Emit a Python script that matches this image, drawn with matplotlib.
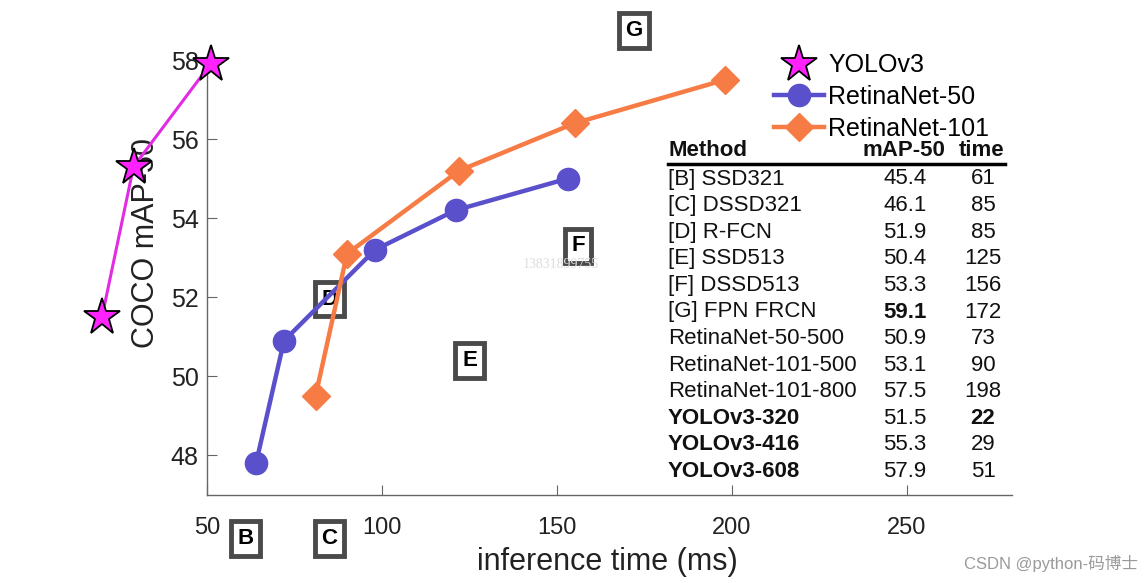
import matplotlib.pyplot as plt
from matplotlib.lines import Line2D

# curves
yolo_time = [20, 29, 51]
yolo_map = [51.5, 55.3, 57.9]
r50_time = [64, 72, 98, 121, 153]
r50_map = [47.8, 50.9, 53.2, 54.2, 55.0]
r101_time = [81, 90, 122, 155, 198]
r101_map = [49.5, 53.1, 55.2, 56.4, 57.5]

# boxed letters (B, C and G sit where the picture shows them, off the axes)
box_letters = ['B', 'C', 'D', 'E', 'F', 'G']
box_time = [61, 85, 85, 125, 156, 172]
box_map = [45.9, 45.9, 51.95, 50.4, 53.3, 58.75]

# table
methods = ['[B] SSD321', '[C] DSSD321', '[D] R-FCN', '[E] SSD513', '[F] DSSD513',
           '[G] FPN FRCN', 'RetinaNet-50-500', 'RetinaNet-101-500', 'RetinaNet-101-800',
           'YOLOv3-320', 'YOLOv3-416', 'YOLOv3-608']
map50 = ['45.4', '46.1', '51.9', '50.4', '53.3', '59.1', '50.9', '53.1', '57.5',
         '51.5', '55.3', '57.9']
times = ['61', '85', '85', '125', '156', '172', '73', '90', '198', '22', '29', '51']
bold_method = [False] * 9 + [True] * 3
bold_map = [False] * 5 + [True] + [False] * 6
bold_time = [False] * 9 + [True, False, False]

xticks = [50, 100, 150, 200, 250]
yticks = [48, 50, 52, 54, 56, 58]

c_yolo = '#ff22ff'
c_yolo_line = '#e22be2'
c_r50 = '#5b50cc'
c_r101 = '#f77b45'

plt.rcParams['font.family'] = ['Liberation Sans', 'DejaVu Sans', 'Noto Sans CJK SC']

W, H = 1148, 583
fig = plt.figure(figsize=(W / 100, H / 100), dpi=100)


def px(x, y):
    return x / W, 1 - y / H


ax = fig.add_axes([207 / W, 1 - 495 / H, (1012 - 207) / W, (495 - 60) / H])
ax.set_xlim(50, 280)
ax.set_ylim(47, 58)

ax.plot(yolo_time, yolo_map, '-', color=c_yolo_line, lw=2.2, marker='*', ms=28,
        mfc=c_yolo, mec='black', mew=1.3, clip_on=False, zorder=5)
ax.plot(r50_time, r50_map, '-', color=c_r50, lw=3.2, marker='o', ms=16,
        mfc=c_r50, mec=c_r50, clip_on=False, zorder=4)
ax.plot(r101_time, r101_map, '-', color=c_r101, lw=3.2, marker='D', ms=14,
        mfc=c_r101, mec=c_r101, clip_on=False, zorder=4)

for lab, t, m in zip(box_letters, box_time, box_map):
    ax.text(t, m, lab, fontsize=16, fontweight='bold', ha='center', va='center',
            clip_on=False, zorder=2,
            bbox=dict(boxstyle='square,pad=0.3', fc='white', ec='#4a4a4a', lw=3.5))

for s in ['top', 'right']:
    ax.spines[s].set_visible(False)
for s in ['left', 'bottom']:
    ax.spines[s].set_color('#666666')
    ax.spines[s].set_linewidth(1.0)

ax.set_xticks(xticks)
ax.set_yticks(yticks)
ax.tick_params(axis='both', direction='in', length=7, color='#666666',
               labelsize=17, labelcolor='#222222')
ax.tick_params(axis='x', pad=16)
ax.tick_params(axis='y', pad=6, labelsize=18)

ax.set_xlabel('inference time (ms)', fontsize=22, color='#222222')
ax.xaxis.set_label_coords(0.497, -0.12)
ax.set_ylabel('COCO mAP-50', fontsize=22, color='#222222')
ax.yaxis.set_label_coords(-0.057, 0.58)

handles = [
    Line2D([], [], ls='none', marker='*', ms=28, mfc=c_yolo, mec='black', mew=1.3),
    Line2D([], [], color=c_r50, lw=3.2, marker='o', ms=16, mfc=c_r50, mec=c_r50),
    Line2D([], [], color=c_r101, lw=3.2, marker='D', ms=14, mfc=c_r101, mec=c_r101),
]
fig.legend(handles, ['YOLOv3', 'RetinaNet-50', 'RetinaNet-101'], loc='upper left',
           bbox_to_anchor=px(761, 41), frameon=False, fontsize=18, borderpad=0,
           handlelength=2.0, handletextpad=0.2, labelspacing=0.3)

# table
tx = dict(transform=fig.transFigure, fontsize=16, color='#111111', va='center')
fig.text(*px(668, 151), 'Method', fontweight='bold', ha='left', **tx)
fig.text(*px(904, 151), 'mAP-50', fontweight='bold', ha='center', **tx)
fig.text(*px(982, 151), 'time', fontweight='bold', ha='center', **tx)
fig.add_artist(Line2D([668 / W, 1005 / W], [1 - 164 / H, 1 - 164 / H],
                      color='black', lw=2.5, transform=fig.transFigure))
for i, (m, a, t) in enumerate(zip(methods, map50, times)):
    y = 179 + i * 26.6
    fig.text(*px(668, y), m, fontweight='bold' if bold_method[i] else 'normal',
             ha='left', **tx)
    fig.text(*px(905, y), a, fontweight='bold' if bold_map[i] else 'normal',
             ha='center', **tx)
    fig.text(*px(983, y), t, fontweight='bold' if bold_time[i] else 'normal',
             ha='center', **tx)

# watermarks
fig.text(*px(561, 264), '13831899755', fontsize=10, color='#dddddd',
         ha='center', va='center', family=['Liberation Serif', 'DejaVu Serif'])
fig.text(*px(1138, 563), 'CSDN @python-码博士', fontsize=12, color='#9a9a9a',
         ha='right', va='center', family=['Liberation Sans', 'Noto Sans CJK SC'])

fig.savefig('out.png', dpi=100)
